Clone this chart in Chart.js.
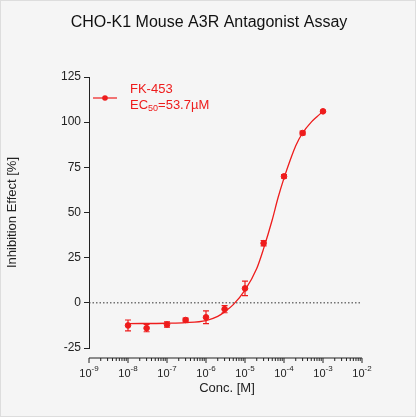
<!DOCTYPE html><html><head><script src="https://cdn.jsdelivr.net/npm/chart.js@4"></script>
<style>body{margin:0;background:#fff}#w{width:414px;height:415px;border:1px solid #ddd;background:#f5f5f5}</style></head><body><div id="w"><canvas id="c" width="414" height="415"></canvas></div>
<script>
const concs=[1e-8,3e-8,1e-7,3e-7,1e-6,3e-6,1e-5,3e-5,1e-4,3e-4,1e-3];
const effect=[-12.5,-14,-12,-9.5,-8,-3.5,8,33,70,94,106];
const errs=[3,2,1.5,1,3.5,2,4,1.5,1,1,0.5];
const fitX=[1e-8,1e-7,3e-7,1e-6,2e-6,3e-6,5e-6,1e-5,2e-5,3e-5,5e-5,7e-5,1e-4,1.5e-4,2e-4,3e-4,5e-4,7e-4,1e-3];
const fitY=[-11.5,-11.3,-11,-9.8,-7.5,-5,-1,7,19,30,46,58,69,80,87,94,100,103,106];
const yTicks=[-25,0,25,50,75,100,125];
const red='#ee1c1c';
const plug={id:'p',afterDatasetsDraw(ch){const c=ch.ctx,x=ch.scales.x,y=ch.scales.y;c.save();
c.fillStyle='#111';c.font='16px Liberation Sans';c.textAlign='center';c.textBaseline='middle';c.fillText('CHO-K1 Mouse A3R Antagonist Assay',208,22);
c.strokeStyle=red;c.lineWidth=1.2;
concs.forEach((v,i)=>{const px=x.getPixelForValue(v),t=y.getPixelForValue(effect[i]+errs[i]),b=y.getPixelForValue(effect[i]-errs[i]);c.beginPath();c.moveTo(px,t);c.lineTo(px,b);c.moveTo(px-3,t);c.lineTo(px+3,t);c.moveTo(px-3,b);c.lineTo(px+3,b);c.stroke();});
c.strokeStyle='#333';c.setLineDash([1.5,2]);c.lineWidth=1;const z=y.getPixelForValue(0);c.beginPath();c.moveTo(x.left,z);c.lineTo(x.right,z);c.stroke();c.setLineDash([]);
const ya=357;c.strokeStyle='#222';c.beginPath();c.moveTo(x.left,ya);c.lineTo(x.right,ya);
for(let e=-9;e<=-2;e++){for(let m=1;m<10;m++){if(e==-2&&m>1)break;const px=x.getPixelForValue(m*Math.pow(10,e));c.moveTo(px,ya);c.lineTo(px,ya+(m==1?5:3));}}
c.stroke();c.fillStyle='#222';c.textBaseline='top';
for(let e=-9;e<=-2;e++){const px=x.getPixelForValue(Math.pow(10,e));c.font='11px Liberation Sans';const w1=c.measureText('10').width;c.font='8px Liberation Sans';const s=String(e);const w2=c.measureText(s).width;const st=px-(w1+w2)/2;c.textAlign='left';c.font='11px Liberation Sans';c.fillText('10',st,367);c.font='8px Liberation Sans';c.fillText(s,st+w1,364);}
c.font='13px Liberation Sans';c.textAlign='center';c.fillText('Conc. [M]',226,381);
c.strokeStyle=red;c.fillStyle=red;c.lineWidth=1.2;c.beginPath();c.moveTo(92,97);c.lineTo(116,97);c.stroke();c.beginPath();c.arc(104,97,2.8,0,7);c.fill();
c.font='13px Liberation Sans';c.textAlign='left';c.textBaseline='middle';c.fillText('FK-453',129,88);c.fillText('EC',129,104);let w=c.measureText('EC').width;c.font='9px Liberation Sans';c.fillText('50',129+w,108);const w5=c.measureText('50').width;c.font='13px Liberation Sans';c.fillText('=53.7µM',129+w+w5,104);
c.restore();}};
new Chart(document.getElementById('c'),{type:'scatter',data:{datasets:[
{data:concs.map((v,i)=>({x:v,y:effect[i]})),backgroundColor:red,borderColor:red,pointRadius:2.8,showLine:false},
{data:fitX.map((v,i)=>({x:v,y:fitY[i]})),borderColor:red,borderWidth:1.3,pointRadius:0,showLine:true,tension:0.4,cubicInterpolationMode:'monotone'}]},
options:{responsive:false,animation:false,layout:{padding:{left:0,right:53,top:76,bottom:0}},
plugins:{legend:{display:false},tooltip:{enabled:false},title:{display:false}},
scales:{x:{type:'logarithmic',min:1e-9,max:1e-2,display:true,grid:{display:false,drawTicks:false},border:{display:false},ticks:{display:false},afterFit(s){s.height=68;}},
y:{min:-25,max:125,afterBuildTicks(s){s.ticks=yTicks.map(v=>({value:v}));},grid:{display:true,drawOnChartArea:false,drawTicks:true,tickLength:5,color:'#222'},border:{display:true,color:'#222'},ticks:{color:'#222',font:{size:12,family:'Liberation Sans'},padding:3},
title:{display:true,text:'Inhibition Effect [%]',color:'#222',font:{size:13,family:'Liberation Sans'}},afterFit(s){s.width=88;}}}},plugins:[plug]});
</script></body></html>
